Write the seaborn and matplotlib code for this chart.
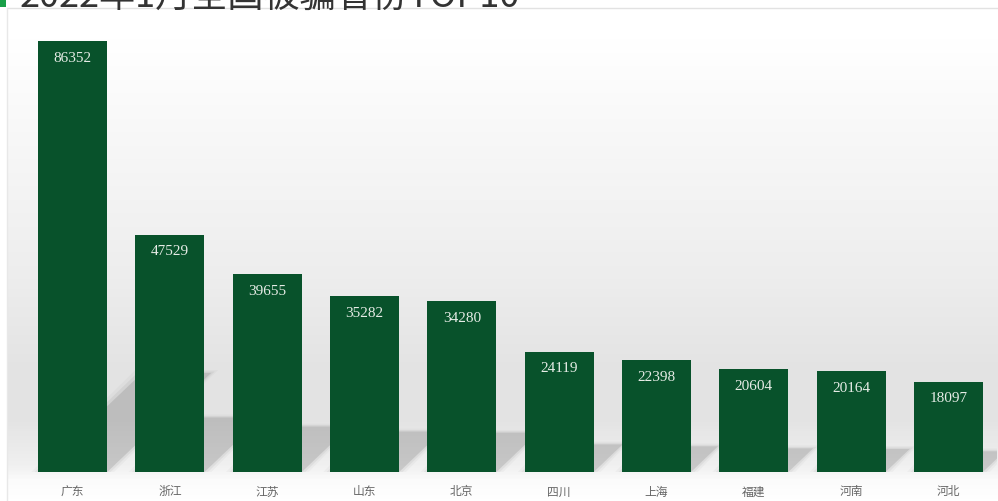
import numpy as np
import pandas as pd
import matplotlib
matplotlib.use("Agg")
import matplotlib.pyplot as plt
from matplotlib.patches import Polygon, Rectangle
from matplotlib.colors import LinearSegmentedColormap
import seaborn as sns

# ---- data ----
provinces = ["广东", "浙江", "江苏", "山东", "北京", "四川", "上海", "福建", "河南", "河北"]
values = [86352, 47529, 39655, 35282, 34280, 24119, 22398, 20604, 20164, 18097]
title = "2022年1月全国被骗省份TOP10"

df = pd.DataFrame({"province": provinces, "value": values})

sns.set_theme(style="white")
plt.rcParams["font.family"] = ["Noto Sans CJK SC", "DejaVu Sans"]

W, H = 998, 502
fig = plt.figure(figsize=(W / 100, H / 100), dpi=100)
fig.patch.set_facecolor("white")

# background gradient panel
bg = fig.add_axes([8 / W, 0, 1 - 8 / W, 1 - 10 / H], zorder=0)
stops = [(0.0, "#ffffff"), (0.06, "#ffffff"), (0.25, "#f8f8f8"), (0.55, "#ededed"),
         (0.74, "#e3e3e3"), (0.84, "#e4e4e4"), (0.93, "#f0f0f0"), (0.96, "#fbfbfb"), (1.0, "#ffffff")]
cmap = LinearSegmentedColormap.from_list("bg", stops)
grad = np.linspace(0, 1, 400).reshape(-1, 1)
bg.imshow(grad, aspect="auto", cmap=cmap, extent=[0, 1, 1, 0], vmin=0, vmax=1)
bg.set_xlim(0, 1)
bg.set_ylim(1, 0)
bg.axis("off")

# main axes
ax = fig.add_axes([24 / W, (H - 473) / H, 973 / W, 443 / H], zorder=1)
ax.patch.set_alpha(0)
sns.barplot(data=df, x="province", y="value", color="#08522b", saturation=1,
            width=0.71, ax=ax, zorder=3, linewidth=0, edgecolor="none")
ax.set_xlim(-0.5, len(provinces) - 0.5)
ax.set_ylim(0, 88757)
for s in ax.spines.values():
    s.set_visible(False)
ax.set_yticks([])
ax.set_xlabel("")
ax.set_ylabel("")
ax.tick_params(axis="x", length=0, pad=9, labelsize=8.5, labelcolor="#666666")

# shadows (derived from bars)
bbox = ax.get_window_extent()
px_x = bbox.width / (len(provinces))
px_y = bbox.height / 88757
for p in ax.patches:
    xl, w, h = p.get_x(), p.get_width(), p.get_height()
    hs = 0.23 * h
    dx = hs * px_y * 1.05 / px_x
    for k, a in [(0, 0.16), (1, 0.07), (2, 0.04)]:
        grow = 0.035 * k
        poly = Polygon([(xl - grow, 0), (xl + w + grow, 0),
                        (xl + w + dx + grow, hs + grow * 8000),
                        (xl + dx - grow, hs + grow * 8000)],
                       closed=True, facecolor="#505050", alpha=a, edgecolor="none", zorder=2)
        ax.add_patch(poly)

# value labels inside bars
for p, v in zip(ax.patches, values):
    ax.annotate(f"{v}", (p.get_x() + p.get_width() / 2, p.get_height()),
                xytext=(0, -7), textcoords="offset points", ha="center", va="top",
                fontsize=11, color="#e6ece6", family=["Liberation Serif"], zorder=4)

# frame lines and title
fig.add_artist(plt.Line2D([7 / W, 1], [1 - 9 / H, 1 - 9 / H], color="#e2e2e2", lw=1))
fig.add_artist(plt.Line2D([7 / W, 7 / W], [0, 1 - 9 / H], color="#e8e8e8", lw=1))
fig.add_artist(Rectangle((0, 1 - 8 / H), 6 / W, 8 / H, transform=fig.transFigure,
                         facecolor="#19a049", edgecolor="none"))
fig.text(20 / W, 1 - 7 / H, title, fontsize=26, color="#333333", ha="left", va="baseline")

fig.savefig("out.png", dpi=100)
